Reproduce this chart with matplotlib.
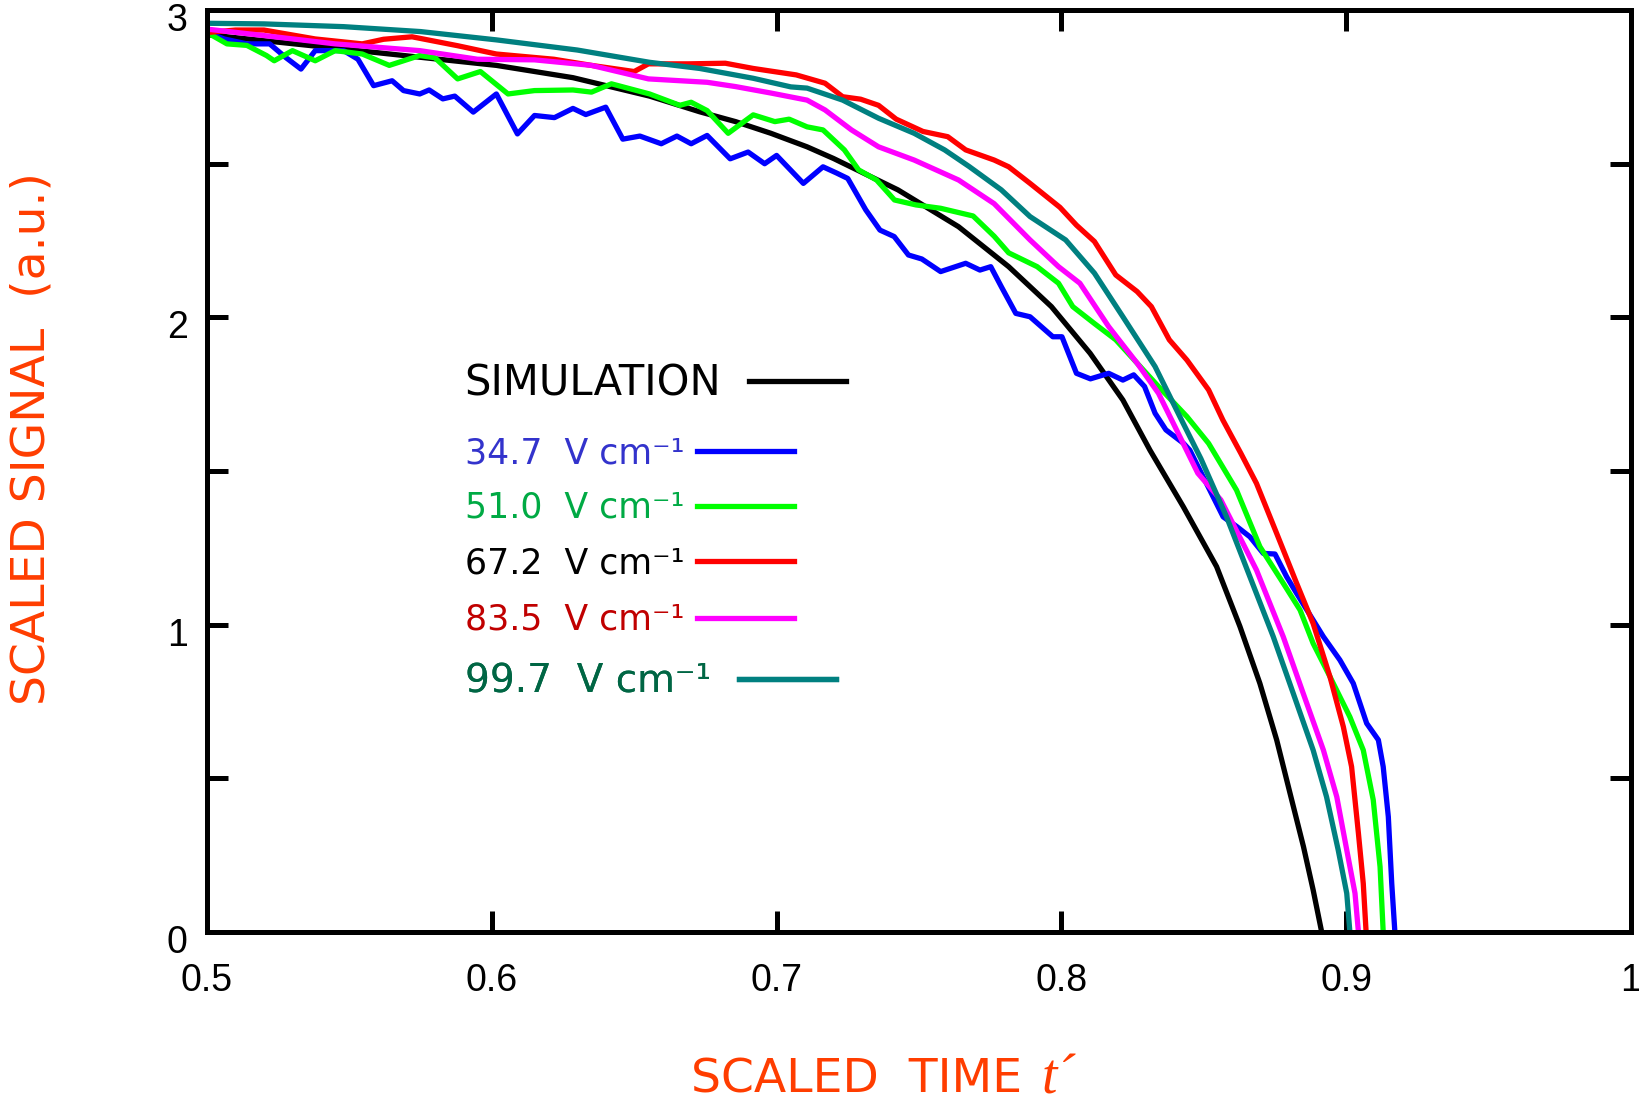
import matplotlib
matplotlib.use('Agg')
import matplotlib.pyplot as plt
from matplotlib.lines import Line2D
from matplotlib.transforms import ScaledTranslation

# simulation curve
t_sim = [0.5, 0.548, 0.6016, 0.6285, 0.6554, 0.673, 0.6856, 0.698, 0.7107, 0.72, 0.7426,
         0.7639, 0.7815, 0.7965, 0.8101, 0.8216, 0.8311, 0.8428, 0.8545, 0.8627, 0.8697,
         0.8756, 0.8803, 0.885, 0.8884, 0.8914]
s_sim = [2.92, 2.873, 2.82, 2.78, 2.72, 2.669, 2.637, 2.599, 2.555, 2.517, 2.415,
         2.295, 2.165, 2.035, 1.883, 1.731, 1.568, 1.384, 1.189, 0.994, 0.809,
         0.625, 0.451, 0.278, 0.137, 0.0]

# 34.7 V/cm (blue)
t_347 = [0.5, 0.506, 0.514, 0.522, 0.5276, 0.533, 0.538, 0.548, 0.553, 0.5585, 0.565, 0.569,
         0.5747, 0.578, 0.5828, 0.587, 0.5935, 0.6016, 0.609, 0.615, 0.622, 0.6285, 0.633,
         0.640, 0.646, 0.652, 0.6595, 0.665, 0.670, 0.6756, 0.6837, 0.690, 0.6958, 0.70,
         0.7094, 0.7163, 0.721, 0.725, 0.7313, 0.7363, 0.7413, 0.7463, 0.751, 0.7576, 0.7664,
         0.7714, 0.7752, 0.7789, 0.784, 0.789, 0.797, 0.8002, 0.8053, 0.8102, 0.8166, 0.8216,
         0.8254, 0.8292, 0.8329, 0.8367, 0.8429, 0.8451, 0.8498, 0.8568, 0.8615, 0.8662,
         0.8709, 0.875, 0.8791, 0.8826, 0.8884, 0.892, 0.8978, 0.9025, 0.9072, 0.9113,
         0.913, 0.9148, 0.916, 0.9171]
s_347 = [2.927, 2.906, 2.89, 2.89, 2.846, 2.808, 2.868, 2.868, 2.84, 2.754, 2.77, 2.738,
         2.727, 2.74, 2.711, 2.72, 2.668, 2.727, 2.597, 2.657, 2.65, 2.68, 2.66,
         2.684, 2.58, 2.59, 2.565, 2.59, 2.565, 2.592, 2.516, 2.538, 2.50, 2.527,
         2.436, 2.49, 2.47, 2.452, 2.35, 2.284, 2.263, 2.203, 2.19, 2.149, 2.176,
         2.154, 2.165, 2.10, 2.013, 2.002, 1.937, 1.937, 1.818, 1.80, 1.818, 1.796,
         1.813, 1.775, 1.688, 1.634, 1.59, 1.568, 1.481, 1.351, 1.32, 1.286,
         1.232, 1.23, 1.156, 1.102, 1.015, 0.961, 0.885, 0.809, 0.679, 0.625,
         0.538, 0.375, 0.158, 0.0]

# 51.0 V/cm (green)
t_510 = [0.5, 0.507, 0.514, 0.5209, 0.5236, 0.530, 0.538, 0.545, 0.5545, 0.564, 0.5747, 0.58,
         0.588, 0.596, 0.6057, 0.615, 0.6285, 0.635, 0.642, 0.6554, 0.666, 0.670, 0.6756,
         0.683, 0.6918, 0.6994, 0.7044, 0.7107, 0.7163, 0.7238, 0.7288, 0.7351, 0.7414,
         0.7489, 0.7576, 0.769, 0.7764, 0.7815, 0.7915, 0.799, 0.804, 0.8116, 0.8191,
         0.8266, 0.8341, 0.8441, 0.8517, 0.8615, 0.8697, 0.8779, 0.8838, 0.8884, 0.8943,
         0.9013, 0.906, 0.9095, 0.9119, 0.913]
s_510 = [2.927, 2.89, 2.885, 2.852, 2.835, 2.868, 2.835, 2.868, 2.857, 2.82, 2.852, 2.845,
         2.776, 2.80, 2.727, 2.738, 2.74, 2.733, 2.76, 2.727, 2.69, 2.70, 2.673,
         2.599, 2.659, 2.637, 2.645, 2.62, 2.61, 2.545, 2.48, 2.447, 2.382,
         2.366, 2.355, 2.33, 2.264, 2.21, 2.165, 2.111, 2.035, 1.98, 1.927,
         1.851, 1.775, 1.677, 1.59, 1.438, 1.254, 1.135, 1.048, 0.939, 0.831,
         0.70, 0.592, 0.43, 0.212, 0.0]

# 67.2 V/cm (red)
t_672 = [0.5, 0.51, 0.52, 0.538, 0.5545, 0.562, 0.572, 0.588, 0.6016, 0.6218, 0.635, 0.650,
         0.655, 0.669, 0.682, 0.6918, 0.7069, 0.717, 0.7232, 0.7295, 0.7358, 0.742, 0.7514,
         0.7601, 0.7664, 0.7764, 0.7815, 0.789, 0.7995, 0.8053, 0.8116, 0.8191, 0.8266,
         0.8316, 0.8379, 0.8441, 0.8517, 0.8567, 0.863, 0.8685, 0.8756, 0.8826, 0.8884,
         0.8943, 0.899, 0.9019, 0.9043, 0.906, 0.907]
s_672 = [2.927, 2.935, 2.935, 2.906, 2.89, 2.905, 2.913, 2.884, 2.857, 2.84, 2.82, 2.80,
         2.825, 2.825, 2.827, 2.81, 2.789, 2.762, 2.718, 2.71, 2.69, 2.645, 2.605,
         2.588, 2.545, 2.512, 2.49, 2.436, 2.358, 2.30, 2.247, 2.138, 2.084,
         2.035, 1.927, 1.861, 1.764, 1.666, 1.558, 1.46, 1.297, 1.135, 1.004,
         0.831, 0.668, 0.538, 0.321, 0.158, 0.0]

# 83.5 V/cm (magenta)
t_835 = [0.5, 0.52, 0.545, 0.5747, 0.595, 0.615, 0.635, 0.655, 0.6756, 0.6856, 0.698, 0.7107,
         0.717, 0.7263, 0.7358, 0.7483, 0.7639, 0.7764, 0.789, 0.799, 0.8065, 0.8166,
         0.8266, 0.8341, 0.8416, 0.8479, 0.856, 0.8685, 0.8779, 0.8849, 0.892, 0.8967,
         0.9002, 0.9031, 0.9043]
s_835 = [2.938, 2.917, 2.89, 2.868, 2.84, 2.838, 2.82, 2.776, 2.765, 2.751, 2.73, 2.707,
         2.675, 2.61, 2.555, 2.512, 2.447, 2.37, 2.252, 2.165, 2.111, 1.97,
         1.851, 1.753, 1.612, 1.493, 1.406, 1.178, 0.961, 0.777, 0.592, 0.44,
         0.267, 0.126, 0.0]

# 99.7 V/cm (teal)
t_997 = [0.5, 0.52, 0.548, 0.575, 0.6016, 0.63, 0.6554, 0.673, 0.6918, 0.705, 0.7107, 0.7232,
         0.7358, 0.7483, 0.759, 0.7676, 0.7789, 0.789, 0.8015, 0.8116, 0.8216, 0.8329,
         0.8416, 0.849, 0.858, 0.8662, 0.8744, 0.8814, 0.8884, 0.8931, 0.8972, 0.9002, 0.9013]
s_997 = [2.957, 2.955, 2.946, 2.93, 2.903, 2.87, 2.83, 2.81, 2.778, 2.75, 2.746, 2.707,
         2.648, 2.599, 2.545, 2.491, 2.415, 2.328, 2.252, 2.144, 2.002, 1.84,
         1.677, 1.54, 1.351, 1.156, 0.961, 0.777, 0.592, 0.44, 0.267, 0.126, 0.0]

labels = ['SIMULATION', '34.7  V cm⁻¹', '51.0  V cm⁻¹', '67.2  V cm⁻¹',
          '83.5  V cm⁻¹', '99.7  V cm⁻¹']
line_colors = ['black', '#0000ff', '#00ff00', '#ff0000', '#ff00ff', '#008080']
text_colors = ['black', '#3333cc', '#00aa44', 'black', '#c00000', '#006644']

xticks = [0.5, 0.6, 0.7, 0.8, 0.9, 1.0]
xticklabels = ['0.5', '0.6', '0.7', '0.8', '0.9', '1']
yticks = [0, 0.5, 1, 1.5, 2, 2.5, 3]
yticklabels = ['0', '', '1', '', '2', '', '3']

orange = '#ff3d00'

fig = plt.figure(figsize=(16.39, 11.06), dpi=100)
ax = fig.add_axes([0.1263, 0.1573, 0.8688, 0.8336])

series = [(t_sim, s_sim), (t_347, s_347), (t_510, s_510), (t_672, s_672),
          (t_835, s_835), (t_997, s_997)]
for (t, s), c in zip(series, line_colors):
    ax.plot(t, s, color=c, lw=3.8, solid_joinstyle='round')

ax.set_xlim(0.5, 1.0)
ax.set_ylim(0, 3)
ax.set_xticks(xticks)
ax.set_xticklabels(xticklabels, fontsize=27, family='Liberation Sans')
ax.set_yticks(yticks)
ax.set_yticklabels(yticklabels, fontsize=27, family='Liberation Sans')
ax.tick_params(direction='in', length=15, width=3.6, top=True, right=True)
ax.tick_params(axis='x', pad=22)
ax.tick_params(axis='y', pad=14)
for sp in ax.spines.values():
    sp.set_linewidth(3.6)
# y labels sit a little below their ticks in the original
shift = ScaledTranslation(0, -7 / 100, fig.dpi_scale_trans)
for lab in ax.get_yticklabels():
    lab.set_transform(lab.get_transform() + shift)

# one small legend per row, text first then the sample line
rows_y = [0.5945, 0.5195, 0.460, 0.400, 0.3385, 0.272]
sizes = [30, 25, 25, 25, 25, 28]
gaps = [20, 9, 9, 9, 9, 20]
for i in range(6):
    fs = sizes[i]
    h = Line2D([], [], color=line_colors[i], lw=3.8)
    leg = ax.legend([h], [labels[i]], loc='center left', bbox_to_anchor=(0.181, rows_y[i]),
                    frameon=False, markerfirst=False, borderpad=0, borderaxespad=0,
                    handlelength=70 / fs, handletextpad=gaps[i] / fs,
                    prop={'family': 'DejaVu Sans', 'size': fs})
    leg.get_texts()[0].set_color(text_colors[i])
    ax.add_artist(leg)

fig.text(32 / 1639, 1 - 439 / 1106, 'SCALED SIGNAL  (a.u.)', rotation=90,
         ha='center', va='center', fontsize=34, color=orange, family='DejaVu Sans')
fig.text(1022 / 1639, 1 - 1080 / 1106, 'SCALED  TIME', ha='right', va='center',
         fontsize=34, color=orange, family='DejaVu Sans')
fig.text(1042 / 1639, 1 - 1080 / 1106, 't´', ha='left', va='center',
         fontsize=40, color=orange, family='Liberation Serif', style='italic')

fig.savefig('out.png', dpi=100)
